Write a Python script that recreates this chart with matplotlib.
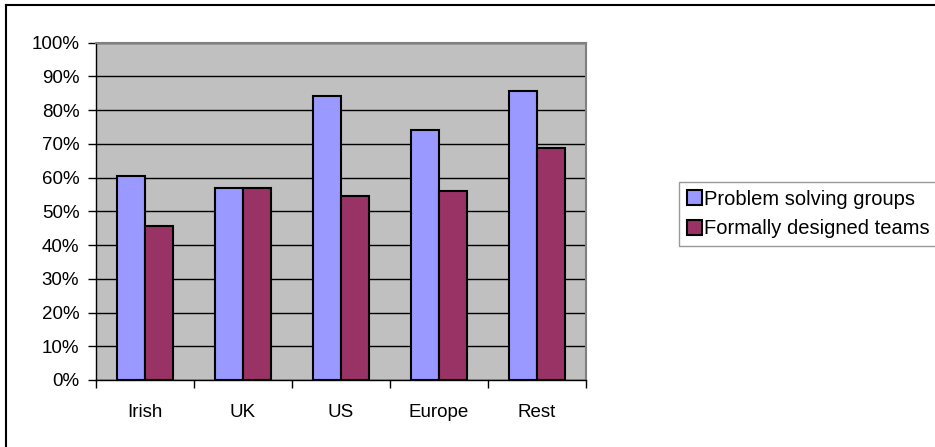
import numpy as np
import matplotlib.pyplot as plt
from matplotlib.lines import Line2D
from matplotlib.ticker import FuncFormatter

categories = ['Irish', 'UK', 'US', 'Europe', 'Rest']
problem_solving = [60.5, 56.9, 84.3, 74.0, 85.8]
formal_teams = [45.6, 56.9, 54.6, 56.0, 68.7]
series_names = ['Problem solving groups', 'Formally designed teams']

plt.rcParams['font.family'] = ['Liberation Sans', 'DejaVu Sans']

fig = plt.figure(figsize=(9.35, 4.47), dpi=100)
ax = fig.add_axes([96 / 935, 1 - 380 / 447, 490 / 935, 337.3 / 447])
ax.set_facecolor('#C0C0C0')

x = np.arange(len(categories))
w = 0.289
ax.bar(x - w / 2, problem_solving, w, color='#9999FF', edgecolor='black',
       linewidth=1.5, label=series_names[0], zorder=3)
ax.bar(x + w / 2, formal_teams, w, color='#993366', edgecolor='black',
       linewidth=1.5, label=series_names[1], zorder=3)

ax.set_xlim(-0.5, len(categories) - 0.5)
ax.set_ylim(0, 100)
ax.set_yticks(np.arange(0, 101, 10))
ax.yaxis.set_major_formatter(FuncFormatter(lambda v, p: '%d%%' % v))
ax.grid(axis='y', color='black', linewidth=1, zorder=1)

# category labels centred, ticks at category boundaries
ax.set_xticks(np.arange(-0.5, len(categories), 1))
ax.set_xticklabels([])
ax.set_xticks(x, minor=True)
ax.set_xticklabels(categories, minor=True)
ax.tick_params(axis='x', which='minor', length=0, pad=17, labelsize=13.5)
ax.tick_params(axis='x', which='major', length=6, width=1, direction='out')
ax.tick_params(axis='y', length=6, width=1, direction='out', pad=6, labelsize=13.5)

for s in ['top', 'right']:
    ax.spines[s].set_color('#808080')
    ax.spines[s].set_linewidth(1.5)
for s in ['left', 'bottom']:
    ax.spines[s].set_color('black')
    ax.spines[s].set_linewidth(1)

leg = fig.legend(loc='upper left', bbox_to_anchor=(679 / 935, 1 - 181.7 / 447),
                 borderaxespad=0, fontsize=14.5, frameon=True, fancybox=False,
                 edgecolor='#808080', handlelength=0.75, handleheight=0.75,
                 handletextpad=0.1, labelspacing=0.52, borderpad=0.4)
leg.get_frame().set_linewidth(1)

# outer chart border (extends past right and bottom of the image)
fig.add_artist(Line2D([6 / 935, 6 / 935], [-0.1, 1 - 5 / 447],
                      transform=fig.transFigure, color='black', linewidth=1.5))
fig.add_artist(Line2D([6 / 935, 1.1], [1 - 5 / 447, 1 - 5 / 447],
                      transform=fig.transFigure, color='black', linewidth=1.5))

fig.savefig('out.png', dpi=100)
